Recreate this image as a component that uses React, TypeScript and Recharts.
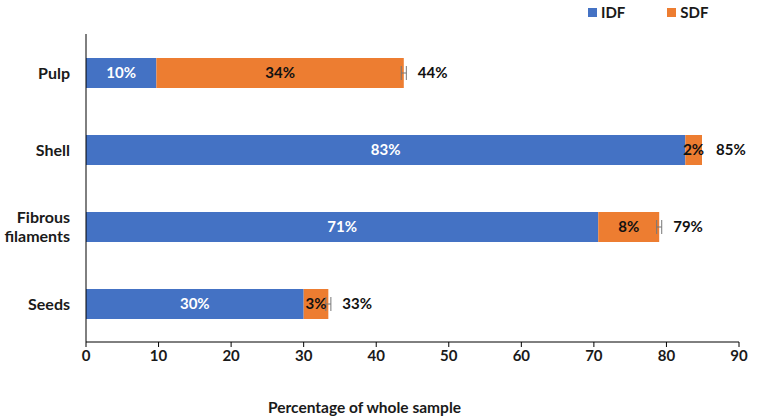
import {
  BarChart,
  Bar,
  XAxis,
  YAxis,
  LabelList,
  ErrorBar,
} from 'recharts'

document.body.style.margin = '0'

const categories = ['Pulp', 'Shell', 'Fibrous filaments', 'Seeds']
const idfValues = [9.7, 82.6, 70.6, 30.0]
const sdfValues = [34.1, 2.3, 8.4, 3.4]
const sdfErrors = [0.35, 0, 0.35, 0.35]
const idfLabels = ['10%', '83%', '71%', '30%']
const sdfLabels = ['34%', '2%', '8%', '3%']
const totalLabels = ['44%', '85%', '79%', '33%']
const xTicks = [0, 10, 20, 30, 40, 50, 60, 70, 80, 90]

const BLUE = '#4472C4'
const ORANGE = '#ED7D31'
const FONT = 'Lato, "Open Sans", sans-serif'
const INK = '#1a1a1a'

const data = categories.map((name, i) => ({
  name,
  idf: idfValues[i],
  sdf: sdfValues[i],
  err: sdfErrors[i],
  idfLabel: idfLabels[i],
  sdfLabel: sdfLabels[i],
  totalLabel: totalLabels[i],
}))

function CategoryTick({ x, y, payload }: any) {
  const lines = String(payload.value).split(' ')
  const lh = 19
  const start = -((lines.length - 1) * lh) / 2
  return (
    <text
      x={x}
      y={y}
      textAnchor="end"
      fontFamily={FONT}
      fontWeight="bold"
      fontSize={16}
      fill={INK}
    >
      {lines.map((l, i) => (
        <tspan key={i} x={x} dy={i === 0 ? start + 6 : lh}>
          {l}
        </tspan>
      ))}
    </text>
  )
}

function LegendBox() {
  const items = [
    { label: 'IDF', color: BLUE },
    { label: 'SDF', color: ORANGE },
  ]
  return (
    <div
      style={{
        position: 'absolute',
        left: 588,
        top: 3,
        display: 'flex',
        gap: 42,
        fontFamily: FONT,
        fontWeight: 'bold',
        fontSize: 15,
        color: INK,
      }}
    >
      {items.map((it) => (
        <div key={it.label} style={{ display: 'flex', alignItems: 'center', gap: 4 }}>
          <span style={{ width: 9, height: 9, background: it.color, display: 'inline-block' }} />
          <span>{it.label}</span>
        </div>
      ))}
    </div>
  )
}

export default function App() {
  return (
    <div style={{ position: 'relative', width: 757, height: 419, background: '#fff' }}>
      <BarChart
        width={757}
        height={419}
        data={data}
        layout="vertical"
        margin={{ top: 34, right: 18, left: 0, bottom: 0 }}
        barSize={30}
      >
        <XAxis
          type="number"
          domain={[0, 90]}
          ticks={xTicks}
          interval={0}
          stroke="#000"
          tickSize={5}
          tickMargin={3}
          height={77}
          tick={{ fontFamily: FONT, fontWeight: 'bold', fontSize: 15, fill: INK }}
          label={{
            value: 'Percentage of whole sample',
            position: 'insideBottom',
            offset: 6,
            dx: -48,
            fontFamily: FONT,
            fontWeight: 'bold',
            fontSize: 15.5,
            fill: INK,
          }}
        />
        <YAxis
          type="category"
          dataKey="name"
          width={86}
          stroke="#000"
          tickLine={false}
          tickSize={0}
          tickMargin={16}
          tick={<CategoryTick />}
        />
        <Bar dataKey="idf" stackId="a" fill={BLUE} isAnimationActive={false}>
          <LabelList
            dataKey="idfLabel"
            position="center"
            fill="#fff"
            fontFamily={FONT}
            fontWeight="bold"
            fontSize={15}
          />
        </Bar>
        <Bar dataKey="sdf" stackId="a" fill={ORANGE} isAnimationActive={false}>
          <ErrorBar dataKey="err" direction="x" width={7} stroke="#777" strokeWidth={1} />
          <LabelList
            dataKey="sdfLabel"
            position="center"
            fill="#111"
            fontFamily={FONT}
            fontWeight="bold"
            fontSize={15}
          />
          <LabelList
            dataKey="totalLabel"
            position="right"
            offset={14}
            fill="#111"
            fontFamily={FONT}
            fontWeight="bold"
            fontSize={15}
          />
        </Bar>
      </BarChart>
      <LegendBox />
    </div>
  )
}
